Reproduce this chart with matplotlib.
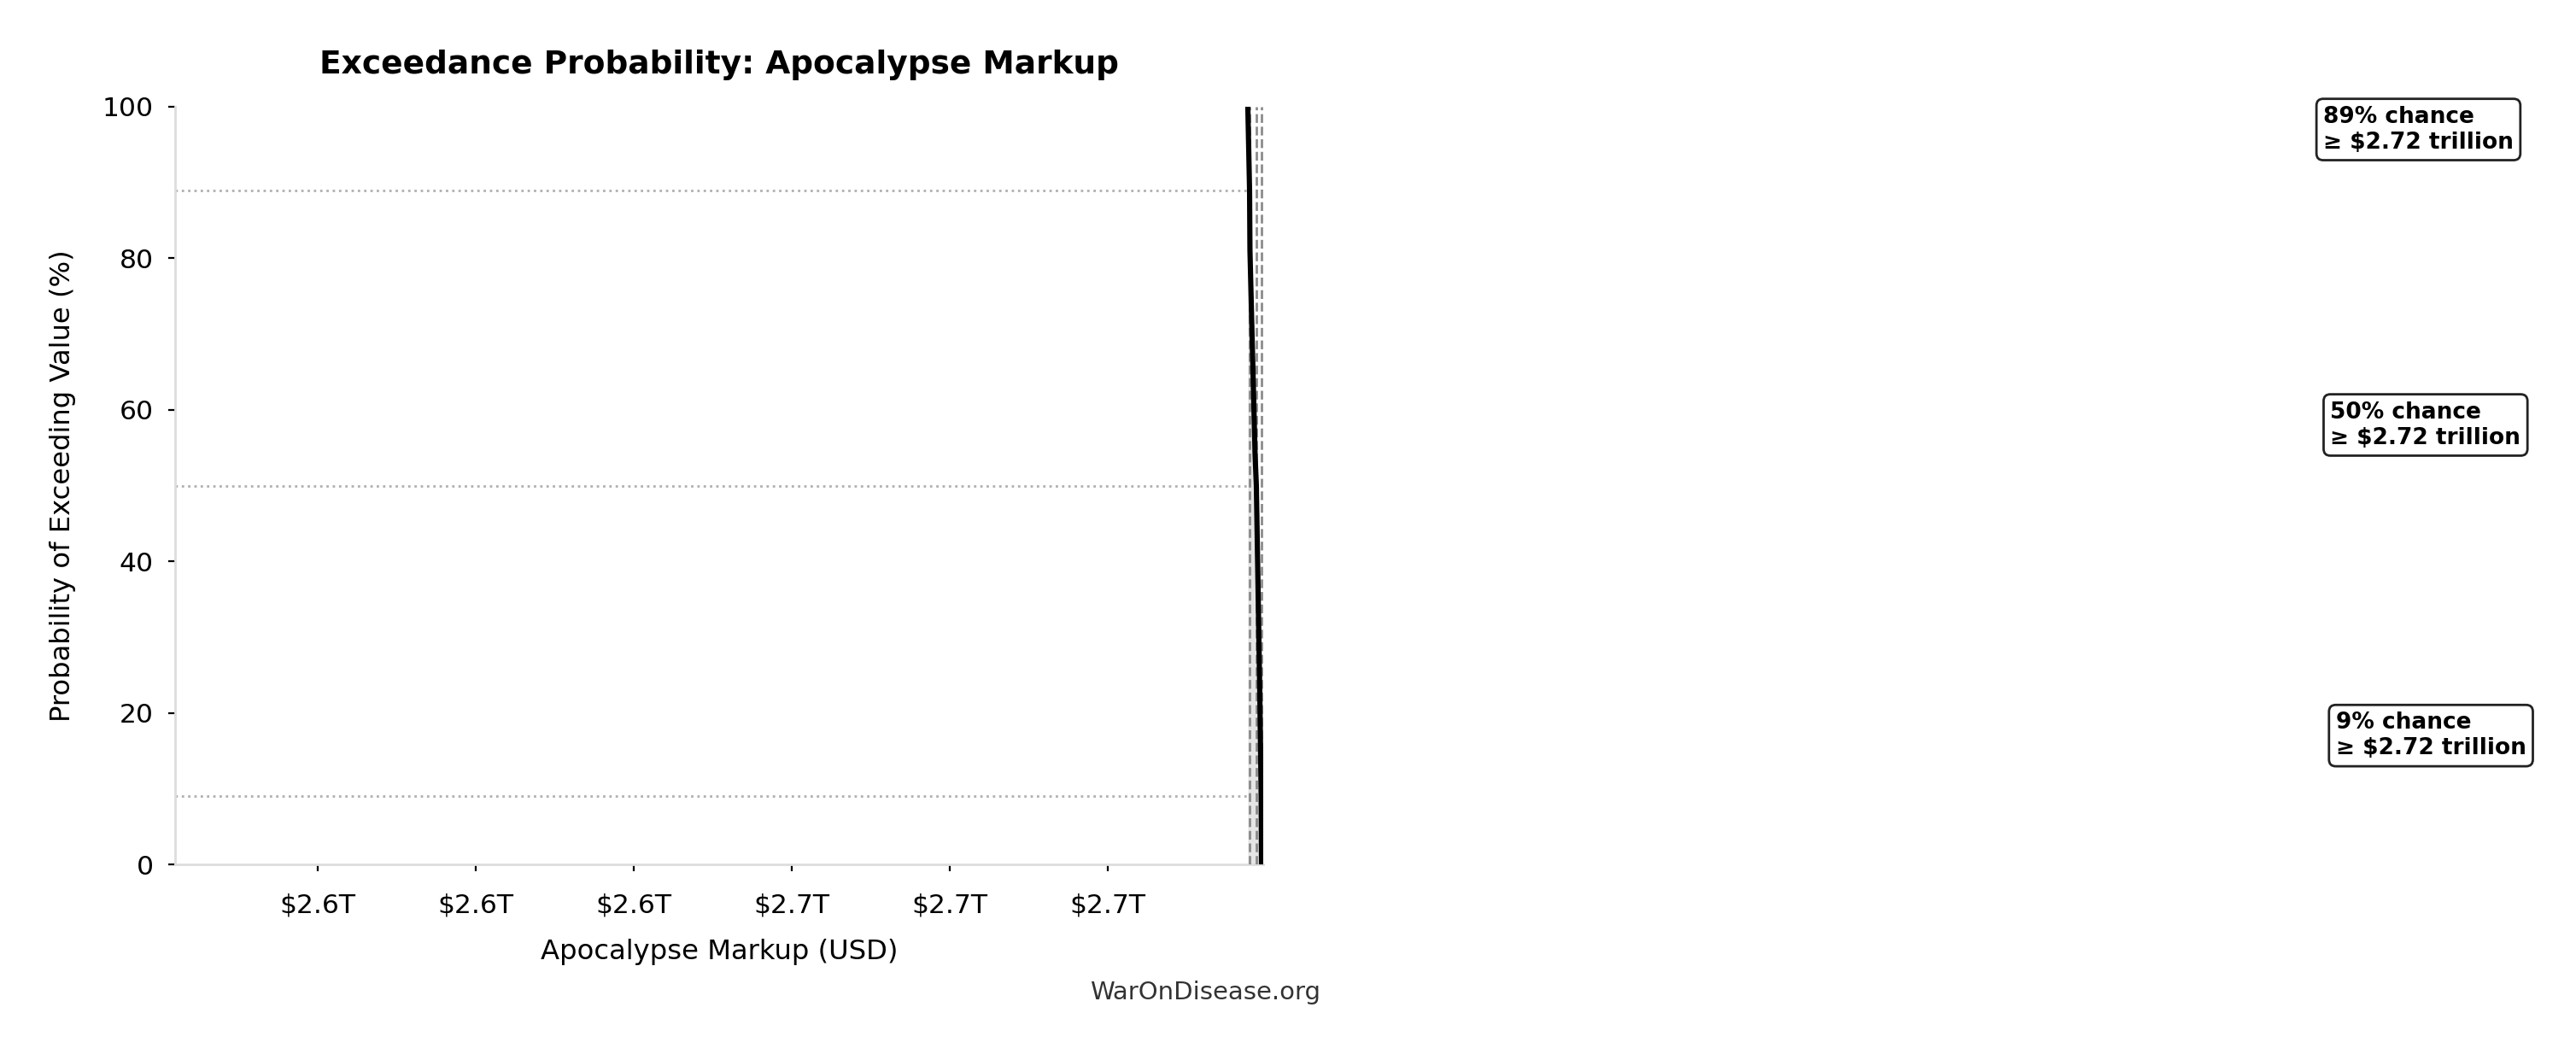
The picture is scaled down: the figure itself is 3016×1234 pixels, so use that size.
import numpy as np
import matplotlib
matplotlib.use("Agg")
import matplotlib.pyplot as plt
from matplotlib.ticker import FuncFormatter, MultipleLocator

# exceedance curve, values in USD
markup_usd = [2.71773e12, 2.71795e12, 2.71800e12, 2.71865e12, 2.71881e12, 2.71924e12, 2.71942e12, 2.71946e12]
exceed_pct = [100, 89, 81, 54, 50, 23, 9, 0]

# marked percentiles
marker_pct = [89, 50, 9]
marker_usd = [2.71795e12, 2.71881e12, 2.71946e12]

x_limits = [2.58195e12, 2.71968e12]

fig = plt.figure(figsize=(15.08, 6.17), dpi=200)
ax = fig.add_axes([205 / 3016, 1 - 1012 / 1234, (1479 - 205) / 3016, (1012 - 125) / 1234])

x = np.array(markup_usd)
y = np.array(exceed_pct)

ax.fill_between(x, y, 0, color='gray', alpha=0.2, lw=0)
ax.plot(x, y, color='black', lw=2.2, zorder=4)

for p, v in zip(marker_pct, marker_usd):
	ax.vlines(v, 0, 100, colors='gray', linestyles='--', lw=1, alpha=0.9, zorder=3)
	ax.hlines(p, x_limits[0], markup_usd[0], colors='#b0b0b0', linestyles=':', lw=1)
	ax.text(v * 1.05, p + 8, f"{p}% chance\n\u2265 ${v / 1e12:.2f} trillion",
		fontsize=9.5, fontweight='bold', ha='left', va='center',
		bbox=dict(boxstyle='round,pad=0.3', facecolor='white', edgecolor='#222222', lw=1))

ax.set_xlim(x_limits)
ax.set_ylim(0, 100)
ax.xaxis.set_major_locator(MultipleLocator(0.02e12))
ax.xaxis.set_major_formatter(FuncFormatter(lambda val, pos: f"${val / 1e12:.1f}T"))
ax.set_yticks([0, 20, 40, 60, 80, 100])

for side in ['top', 'right']:
	ax.spines[side].set_visible(False)
for side in ['left', 'bottom']:
	ax.spines[side].set_color('#dddddd')
	ax.spines[side].set_linewidth(1)
ax.tick_params(labelsize=11.3, length=3)
ax.tick_params(axis='x', pad=9)
ax.tick_params(axis='y', pad=6)

ax.set_title('Exceedance Probability: Apocalypse Markup', fontsize=13.5, fontweight='bold', pad=14)
ax.set_xlabel('Apocalypse Markup (USD)', fontsize=11.6, labelpad=9)
ax.set_ylabel('Probability of Exceeding Value (%)', fontsize=11.6, labelpad=11)

fig.text(1411 / 3016, 1 - 1162 / 1234, 'WarOnDisease.org', fontsize=10.5, color='#333333', ha='center', va='center')

fig.savefig('out.png', dpi=200)
